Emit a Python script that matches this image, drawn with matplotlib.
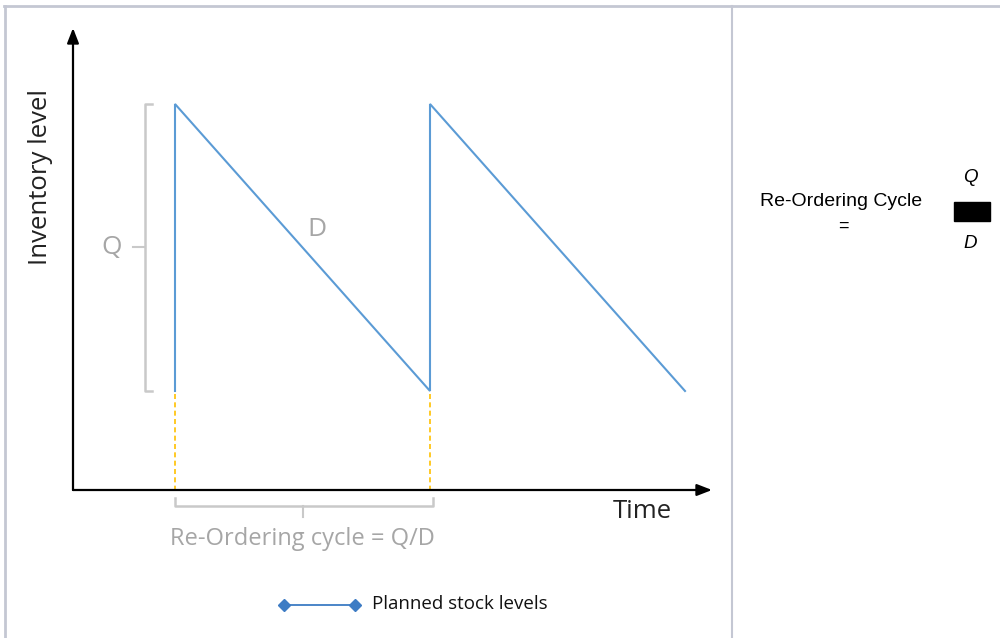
import matplotlib
matplotlib.use("Agg")
import matplotlib.pyplot as plt
from matplotlib.patches import Rectangle
from matplotlib.lines import Line2D

# ---- data (time in re-order cycles, inventory in units of Q) ----
time_pts = [0.4, 0.4, 1.4, 1.4, 2.4]
stock_pts = [0.345, 1.345, 0.345, 1.345, 0.345]
reorder_times = [0.4, 1.4]
safety_level = 0.345
order_qty = 1.0
series_label = "Planned stock levels"
x_label = "Time"
y_label = "Inventory level"
cycle_label = "Re-Ordering cycle = Q/D"

W, H = 1000, 638
fig = plt.figure(figsize=(W / 100, H / 100), dpi=100)

# background overlay in pixel coordinates
bg = fig.add_axes([0, 0, 1, 1])
bg.set_xlim(0, W)
bg.set_ylim(H, 0)
bg.axis("off")
border = "#c4c7d3"
bg.plot([4, W], [6, 6], color=border, lw=2)
bg.plot([5, 5], [6, H], color=border, lw=2)
bg.plot([732, 732], [6, H], color=border, lw=1.5)

# main axes: origin at px (73, 490)
x0, y0 = 73, 490
xpx_per = 255.0
ypx_per = 287.0
x1, ytop = 712, 28
ax = fig.add_axes([x0 / W, 1 - y0 / H, (x1 - x0) / W, (y0 - ytop) / H])
ax.set_xlim(0, (x1 - x0) / xpx_per)
ax.set_ylim(0, (y0 - ytop) / ypx_per)
ax.axis("off")

# axes arrows
ax.annotate("", xy=(1, 0), xytext=(0, 0), xycoords="axes fraction",
            arrowprops=dict(arrowstyle="-|>,head_length=0.9,head_width=0.35",
                            color="black", lw=1.6, shrinkA=0, shrinkB=0))
ax.annotate("", xy=(0, 1), xytext=(0, 0), xycoords="axes fraction",
            arrowprops=dict(arrowstyle="-|>,head_length=0.9,head_width=0.35",
                            color="black", lw=1.6, shrinkA=0, shrinkB=0))

# sawtooth
ax.plot(time_pts, stock_pts, color="#5b9bd5", lw=1.5, solid_joinstyle="miter")

# dashed re-order lines
for t in reorder_times:
    ax.plot([t, t], [-0.03, safety_level], color="#ffc000", lw=1.2,
            ls=(0, (3, 2)))

gray = "#c9c9c9"
tgray = "#a6a6a6"
# Q bracket
bx = reorder_times[0] - 30 / xpx_per
sx = 7 / xpx_per
top = safety_level + order_qty
ax.plot([bx + sx, bx, bx, bx + sx], [top, top, safety_level, safety_level],
        color=gray, lw=1.8)
mid = safety_level + order_qty / 2
ax.plot([bx, bx - 12 / xpx_per], [mid, mid], color=gray, lw=1.5)
ax.text(bx - 33 / xpx_per, mid, "Q", color=tgray, fontsize=19,
        family="Open Sans", ha="center", va="center")
ax.text((317 - x0) / xpx_per, (y0 - 230) / ypx_per, "D", color=tgray,
        fontsize=19, family="Open Sans", ha="center", va="center")

# bottom bracket
byv = -16 / ypx_per
sy = 8 / ypx_per
xa, xb = reorder_times[0], reorder_times[1] + 3 / xpx_per
ax.plot([xa, xa, xb, xb], [byv + sy, byv, byv, byv + sy], color=gray, lw=1.8,
        clip_on=False)
xm = (reorder_times[0] + reorder_times[1]) / 2
ax.plot([xm, xm], [byv, byv - 11 / ypx_per], color=gray, lw=1.5, clip_on=False)
ax.text(xm, -49 / ypx_per, cycle_label, color=tgray, fontsize=17,
        family="Open Sans", ha="center", va="center", clip_on=False)

# axis labels
bg.text(642, 511, x_label, fontsize=18.5, family="Open Sans", ha="center",
        va="center", color="#222222")
bg.text(41, 177, y_label, fontsize=18.5, family="Open Sans", ha="center",
        va="center", rotation=90, color="#222222")

# legend
lc = "#3d7cc4"
bg.add_line(Line2D([284, 355], [605, 605], color=lc, lw=1.3, marker="D",
                   markersize=6, markevery=[0, 1]))
bg.text(372, 604, series_label, fontsize=13.5, family="Open Sans", ha="left",
        va="center", color="#111111")

# right panel formula
bg.text(841, 201, "Re-Ordering Cycle", fontsize=14, family="Liberation Sans",
        ha="center", va="center")
bg.text(843, 226, "=", fontsize=13, family="Liberation Sans",
        ha="center", va="center")
bg.text(970, 178, "Q", fontsize=13.5, family="Liberation Sans", style="italic",
        ha="center", va="center")
bg.text(970, 243, "D", fontsize=13.5, family="Liberation Sans", style="italic",
        ha="center", va="center")
bg.add_patch(Rectangle((954, 202), 36, 19, color="black"))

fig.savefig("out.png", dpi=100)
